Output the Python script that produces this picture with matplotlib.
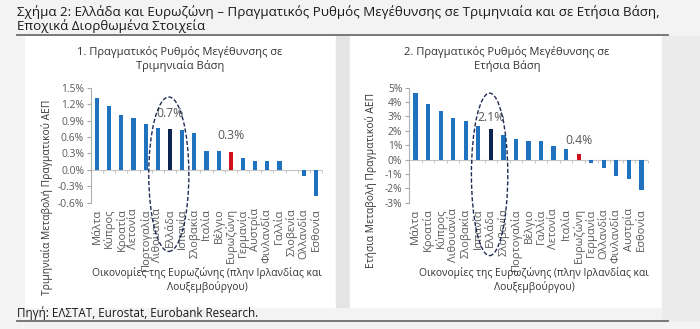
import matplotlib.pyplot as plt
from matplotlib.patches import Ellipse, Rectangle
from matplotlib.ticker import FixedLocator, FuncFormatter

# quarterly growth (left panel)
q_countries = ["Μάλτα", "Κύπρος", "Κροατία", "Λετονία", "Πορτογαλία", "Λιθουανία",
               "Ελλάδα", "Ισπανία", "Σλοβακία", "Ιταλία", "Βέλγιο", "Ευρωζώνη",
               "Γερμανία", "Αυστρία", "Φινλανδία", "Γαλλία", "Σλοβενία", "Ολλανδία",
               "Εσθονία"]
q_values = [1.32, 1.17, 1.00, 0.95, 0.84, 0.76, 0.74, 0.73, 0.67, 0.35, 0.34, 0.32,
            0.22, 0.17, 0.16, 0.16, -0.01, -0.11, -0.47]

# annual growth (right panel)
a_countries = ["Μάλτα", "Κροατία", "Κύπρος", "Λιθουανία", "Σλοβακία", "Ισπανία",
               "Ελλάδα", "Σλοβενία", "Πορτογαλία", "Βέλγιο", "Γαλλία", "Λετονία",
               "Ιταλία", "Ευρωζώνη", "Γερμανία", "Ολλανδία", "Φινλανδία", "Αυστρία",
               "Εσθονία"]
a_values = [4.6, 3.9, 3.37, 2.86, 2.67, 2.37, 2.14, 1.74, 1.42, 1.30, 1.26, 0.93,
            0.72, 0.37, -0.26, -0.56, -1.12, -1.33, -2.14]

q_ticks = [-0.6, -0.3, 0.0, 0.3, 0.6, 0.9, 1.2, 1.5]
a_ticks = [-3, -2, -1, 0, 1, 2, 3, 4, 5]

BLUE = "#1f72bd"
NAVY = "#0d2552"
RED = "#d0111b"
GREY_TXT = "#595959"
FONT = "Open Sans"

W, H = 700, 329
fig = plt.figure(figsize=(7, 3.29), dpi=100, facecolor="#f3f3f3")


def px(x, y):
    return x / W, 1 - y / H


def rect_px(x0, y0, x1, y1, color):
    fx0, fy1 = px(x0, y1)
    fig.patches.append(Rectangle((fx0, fy1), (x1 - x0) / W, (y1 - y0) / H,
                                 transform=fig.transFigure, color=color, zorder=-5))


# panels
rect_px(25, 36, 336, 307, "white")
rect_px(336, 36, 350, 307, "#e4e4e4")
rect_px(350, 36, 662, 307, "white")
rect_px(662, 36, 700, 320, "#ebebeb")

# header / footer
fig.text(*px(17, 19), "Σχήμα 2: Ελλάδα και Ευρωζώνη – Πραγματικός Ρυθμός Μεγέθυνσης σε Τριμηνιαία και σε Ετήσια Βάση,\n"
         "Εποχικά Διορθωμένα Στοιχεία",
         fontsize=9.6, family=FONT, va="center", color="#1a1a1a", linespacing=1.0)
fig.add_artist(plt.Line2D([17 / W, 668 / W], [1 - 35 / H] * 2, color="#6e6e6e", lw=1.3,
                          transform=fig.transFigure))
fig.add_artist(plt.Line2D([17 / W, 668 / W], [1 - 320.5 / H] * 2, color="#6e6e6e", lw=1.3,
                          transform=fig.transFigure))
fig.text(*px(17, 313), "Πηγή: ΕΛΣΤΑΤ, Eurostat, Eurobank Research.",
         fontsize=8.4, family=FONT, va="center", color="#1a1a1a")


def panel(x0, x1, countries, values, ticks, fmt, title, tcx, ylabel, ylx, yly,
          greece_lbl, ez_lbl, lbl_y, ell_w, ell_h, ell_cy):
    y_top, y_bot = 87.7, 202.7
    ax = fig.add_axes([x0 / W, 1 - y_bot / H, (x1 - x0) / W, (y_bot - y_top) / H])
    ax.set_facecolor("none")
    n = len(countries)
    colors = [NAVY if c == "Ελλάδα" else RED if c == "Ευρωζώνη" else BLUE for c in countries]
    ax.bar(range(n), values, width=0.34, color=colors, zorder=3)
    ax.set_xlim(-0.5, n - 0.5)
    ax.set_ylim(ticks[0], ticks[-1])
    ax.set_yticks(ticks)
    ax.yaxis.set_major_formatter(FuncFormatter(lambda v, p: fmt.format(v)))
    ax.tick_params(axis="y", labelsize=7.4, colors="#a6a6a6", labelcolor=GREY_TXT,
                   length=3, width=0.8, pad=2)
    for lab in ax.get_yticklabels():
        lab.set_family(FONT)
    ax.set_xticks(range(n))
    ax.set_xticklabels(countries, rotation=90, fontsize=8.0, family=FONT, color=GREY_TXT,
                       va="top")
    ax.tick_params(axis="x", length=0, pad=4)
    for s in ["top", "right", "bottom"]:
        ax.spines[s].set_visible(False)
    ax.spines["left"].set_color("#b0b0b0")
    ax.spines["left"].set_linewidth(0.8)
    ax.axhline(0, color="#c4c4c4", lw=0.8, zorder=2)
    zero_pos = (0 - ticks[0]) / (ticks[-1] - ticks[0])
    sec = ax.secondary_xaxis(zero_pos)
    sec.xaxis.set_major_locator(FixedLocator([i + 0.5 for i in range(n)]))
    sec.tick_params(axis="x", direction="out", length=2.5, width=0.7, colors="#c4c4c4",
                    labelbottom=False, labeltop=False, bottom=True, top=False)
    sec.xaxis.set_ticks_position("bottom")
    sec.spines["bottom"].set_visible(False)
    sec.spines["top"].set_visible(False)
    sec.set_xticklabels([])

    gi = countries.index("Ελλάδα")
    ei = countries.index("Ευρωζώνη")
    ax.text(gi, lbl_y[0], greece_lbl, ha="center", va="center",
            fontsize=8.8, family=FONT, color=GREY_TXT)
    ax.text(ei, lbl_y[1], ez_lbl, ha="center", va="center",
            fontsize=8.8, family=FONT, color=GREY_TXT)
    ax.add_patch(Ellipse((gi - 0.1, ell_cy), ell_w, ell_h, fill=False, ls=(0, (3, 1.5)),
                         lw=1.0, edgecolor="#1f2a55", clip_on=False, zorder=4))

    fig.text(*px(tcx, 59), title, ha="center", va="center", fontsize=8.0, family=FONT,
             color="#333333", linespacing=1.15)
    fig.text(*px(tcx + 27, 280), "Οικονομίες της Ευρωζώνης (πλην Ιρλανδίας και\nΛουξεμβούργου)",
             ha="center", va="center", fontsize=7.4, family=FONT, color="#333333",
             linespacing=1.15)
    fig.text(*px(ylx, yly), ylabel, rotation=90, ha="center", va="center", fontsize=7.4,
             family=FONT, color="#333333")
    return ax


panel(91, 322, q_countries, q_values, q_ticks, "{:.1f}%",
      "1. Πραγματικός Ρυθμός Μεγέθυνσης σε\nΤριμηνιαία Βάση", 180,
      "Τριμηνιαία Μεταβολή Πραγματικού ΑΕΠ", 47, 197,
      "0.7%", "0.3%", (1.02, 0.62), 3.3, 2.82, -0.08)
panel(409.3, 647.7, a_countries, a_values, a_ticks, "{:.0f}%",
      "2. Πραγματικός Ρυθμός Μεγέθυνσης σε\nΕτήσια Βάση", 507,
      "Ετήσια Μεταβολή Πραγματικού ΑΕΠ", 371, 180,
      "2.1%", "0.4%", (2.95, 1.3), 2.9, 11.3, -1.03)

fig.savefig("out.png", dpi=100, facecolor=fig.get_facecolor())
